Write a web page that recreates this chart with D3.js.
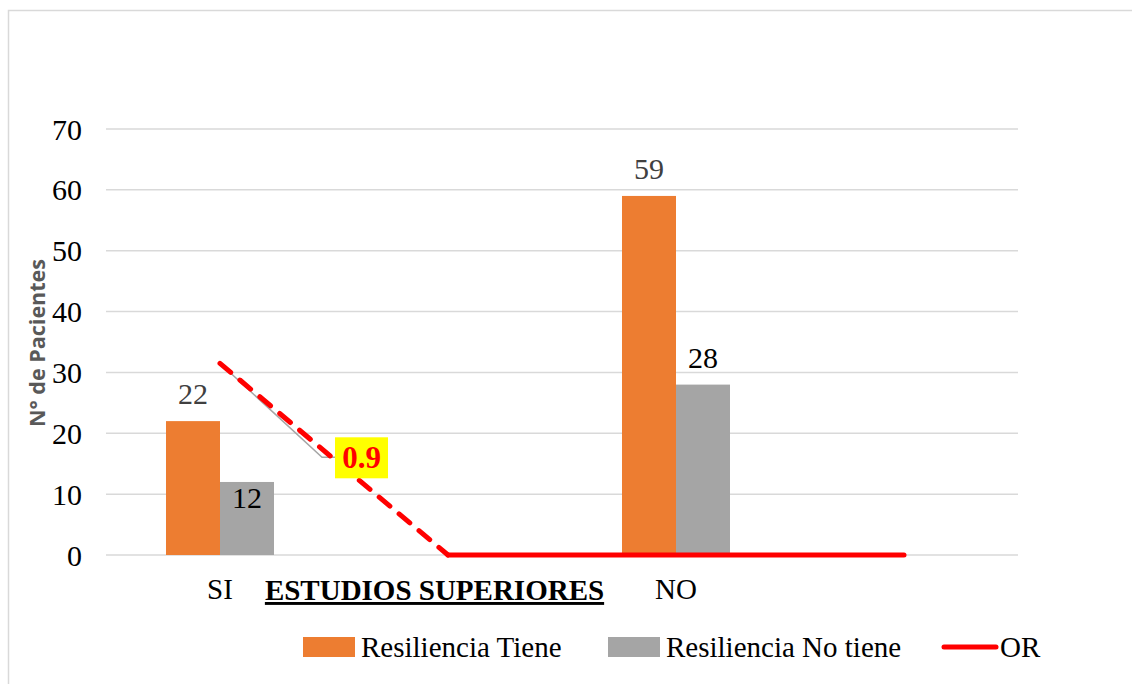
<!DOCTYPE html>
<html>
<head>
<meta charset="utf-8">
<script src="https://cdn.jsdelivr.net/npm/d3@7"></script>
<style>
  body { margin: 0; background: #fff; }
  svg { display: block; }
</style>
</head>
<body>
<div id="chart"></div>
<script>
// chart data
var categories = ["SI", "", "NO", ""];
var seriesNames = ["Resiliencia Tiene", "Resiliencia No tiene"];
var tiene = [22, null, 59, null];
var noTiene = [12, null, 28, null];
var orValues = [0.9, 0, 0, 0];
var yTicks = [0, 10, 20, 30, 40, 50, 60, 70];
var orLabel = "0.9";
var xTitle = "ESTUDIOS SUPERIORES";
var yTitle = "N° de Pacientes";

var W = 1132, H = 684;
var plotLeft = 106, plotRight = 1018, plotTop = 129, plotBottom = 555;
var colors = ["#ED7D31", "#A5A5A5"];
var serif = "'Liberation Serif', 'Times New Roman', serif";

var svg = d3.select("#chart").append("svg")
  .attr("width", W)
  .attr("height", H);

svg.append("rect")
  .attr("x", 8.5).attr("y", 10.5)
  .attr("width", W).attr("height", H)
  .attr("fill", "#fff")
  .attr("stroke", "#d9d9d9")
  .attr("stroke-width", 1.5);

var x0 = d3.scaleBand()
  .domain(d3.range(categories.length))
  .range([plotLeft, plotRight]);

var x1 = d3.scaleBand()
  .domain([0, 1])
  .range([0, x0.bandwidth()])
  .paddingOuter(1.111);

var y = d3.scaleLinear().domain([0, 70]).range([plotBottom, plotTop]);
// OR sits on a hidden secondary axis 0..2
var y2 = d3.scaleLinear().domain([0, 2]).range([plotBottom, plotTop]);

// gridlines
svg.append("g")
  .selectAll("line")
  .data(yTicks)
  .enter().append("line")
    .attr("x1", plotLeft).attr("x2", plotRight)
    .attr("y1", function(d) { return y(d); })
    .attr("y2", function(d) { return y(d); })
    .attr("stroke", "#d9d9d9")
    .attr("stroke-width", 1.5);

// y tick labels
svg.append("g")
  .selectAll("text")
  .data(yTicks)
  .enter().append("text")
    .attr("x", 82)
    .attr("y", function(d) { return y(d); })
    .attr("dy", "0.35em")
    .attr("text-anchor", "end")
    .attr("font-family", serif)
    .attr("font-size", 30)
    .attr("fill", "#000")
    .text(function(d) { return d; });

// bars
var series = [tiene, noTiene];
series.forEach(function(vals, s) {
  var g = svg.append("g");
  var pts = vals.map(function(v, i) { return {v: v, i: i}; })
    .filter(function(d) { return d.v != null; });

  g.selectAll("rect")
    .data(pts)
    .enter().append("rect")
      .attr("x", function(d) { return x0(d.i) + x1(s); })
      .attr("y", function(d) { return y(d.v); })
      .attr("width", x1.bandwidth())
      .attr("height", function(d) { return y(0) - y(d.v); })
      .attr("fill", colors[s]);

  g.selectAll("text")
    .data(pts)
    .enter().append("text")
      .attr("x", function(d) { return x0(d.i) + x1(s) + x1.bandwidth() / 2; })
      .attr("y", function(d) {
        // the "12" label was dragged inside its bar in the original
        var off = (s === 1 && d.i === 0) ? 26 : -17;
        return y(d.v) + off;
      })
      .attr("text-anchor", "middle")
      .attr("font-family", serif)
      .attr("font-size", 30)
      .attr("fill", s === 0 ? "#404040" : "#000")
      .text(function(d) { return d.v; });
});

// OR line: dashed first segment, solid after
var line = d3.line()
  .x(function(d) { return x0(d.i) + x0.bandwidth() / 2; })
  .y(function(d) { return y2(d.v); });
var orPts = orValues.map(function(v, i) { return {v: v, i: i}; });

var p0x = x0(0) + x0.bandwidth() / 2, p0y = y2(orValues[0]);

// leader line for the OR label
svg.append("path")
  .attr("d", "M" + p0x + "," + p0y + "L" + (p0x + 102) + "," + (p0y + 94) + "L" + (p0x + 115) + "," + (p0y + 94))
  .attr("fill", "none")
  .attr("stroke", "#a6a6a6")
  .attr("stroke-width", 1.5);

svg.append("path")
  .datum(orPts.slice(0, 2))
  .attr("d", line)
  .attr("fill", "none")
  .attr("stroke", "#FF0000")
  .attr("stroke-width", 5)
  .attr("stroke-linecap", "round")
  .attr("stroke-dasharray", "14,12");

svg.append("path")
  .datum(orPts.slice(1))
  .attr("d", line)
  .attr("fill", "none")
  .attr("stroke", "#FF0000")
  .attr("stroke-width", 5)
  .attr("stroke-linecap", "round")
  .attr("stroke-linejoin", "round");

// OR data label box
svg.append("rect")
  .attr("x", p0x + 115).attr("y", p0y + 74)
  .attr("width", 53).attr("height", 41)
  .attr("fill", "#FFFF00");
svg.append("text")
  .attr("x", p0x + 141.5).attr("y", p0y + 105)
  .attr("text-anchor", "middle")
  .attr("font-family", serif)
  .attr("font-size", 31)
  .attr("font-weight", "bold")
  .attr("fill", "#FF0000")
  .text(orLabel);

// category labels
svg.append("g")
  .selectAll("text")
  .data(categories)
  .enter().append("text")
    .attr("x", function(d, i) { return x0(i) + x0.bandwidth() / 2; })
    .attr("y", 599)
    .attr("text-anchor", "middle")
    .attr("font-family", serif)
    .attr("font-size", 29)
    .attr("fill", "#000")
    .text(function(d) { return d; });

// x title
svg.append("text")
  .attr("x", 434.5)
  .attr("y", 600)
  .attr("text-anchor", "middle")
  .attr("font-family", serif)
  .attr("font-size", 29)
  .attr("font-weight", "bold")
  .attr("text-decoration", "underline")
  .attr("fill", "#000")
  .text(xTitle);

// y title
svg.append("text")
  .attr("transform", "translate(45," + 343 + ") rotate(-90)")
  .attr("text-anchor", "middle")
  .attr("font-family", "'Open Sans', sans-serif")
  .attr("font-size", 21)
  .attr("font-weight", "bold")
  .attr("fill", "#595959")
  .attr("textLength", 168)
  .attr("lengthAdjust", "spacingAndGlyphs")
  .text(yTitle);

// legend
var legend = svg.append("g");
var legendItems = [
  {name: seriesNames[0], type: "box", color: colors[0], x: 303},
  {name: seriesNames[1], type: "box", color: colors[1], x: 608},
  {name: "OR", type: "line", color: "#FF0000", x: 942}
];
legendItems.forEach(function(it) {
  if (it.type === "box") {
    legend.append("rect")
      .attr("x", it.x).attr("y", 637)
      .attr("width", 52).attr("height", 20)
      .attr("fill", it.color);
  } else {
    legend.append("line")
      .attr("x1", it.x + 2).attr("x2", it.x + 54)
      .attr("y1", 647).attr("y2", 647)
      .attr("stroke", it.color)
      .attr("stroke-width", 5)
      .attr("stroke-linecap", "round");
  }
  legend.append("text")
    .attr("x", it.x + 58)
    .attr("y", 657)
    .attr("font-family", serif)
    .attr("font-size", 29)
    .attr("fill", "#000")
    .text(it.name);
});
</script>
</body>
</html>
